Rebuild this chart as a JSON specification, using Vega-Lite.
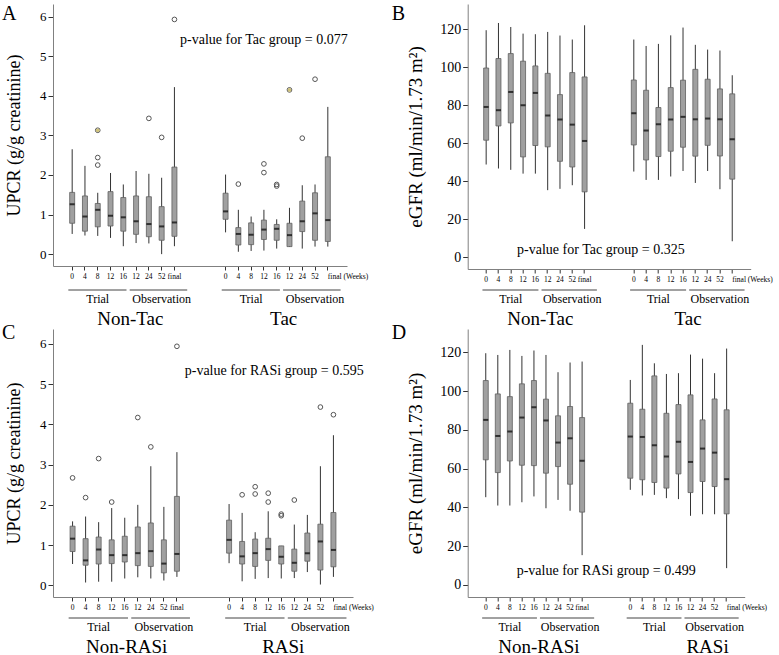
{
  "$schema": "https://vega.github.io/schema/vega-lite/v6.json",
  "background": "white",
  "padding": {"left": 2, "top": 4, "right": 0, "bottom": 0},
  "autosize": {"type": "pad"},
  "config": {
    "view": {"stroke": null},
    "font": "Liberation Serif",
    "axis": {"labelFont": "Liberation Serif", "titleFont": "Liberation Serif", "domainColor": "#808080", "tickColor": "#333333", "labelColor": "#000000", "titleColor": "#000000", "grid": false, "titleFontWeight": "normal"},
    "title": {"font": "Liberation Serif", "fontWeight": "normal", "fontSize": 20, "color": "#000000"}
  },
  "datasets": {
    "boxes": [
      {"p":"A","key":"1T0","lo":0.51,"q1":0.78,"med":1.26,"q3":1.56,"hi":2.65},
      {"p":"A","key":"1T4","lo":0.47,"q1":0.58,"med":0.95,"q3":1.47,"hi":2.23},
      {"p":"A","key":"1T8","lo":0.46,"q1":0.69,"med":1.12,"q3":1.28,"hi":1.55},
      {"p":"A","key":"1T12","lo":0.41,"q1":0.71,"med":0.97,"q3":1.58,"hi":2.05},
      {"p":"A","key":"1T16","lo":0.2,"q1":0.58,"med":0.93,"q3":1.43,"hi":1.76},
      {"p":"A","key":"1O12","lo":0.28,"q1":0.5,"med":0.83,"q3":1.47,"hi":2.1},
      {"p":"A","key":"1O24","lo":0.27,"q1":0.44,"med":0.76,"q3":1.45,"hi":2.03},
      {"p":"A","key":"1O52","lo":0.0,"q1":0.35,"med":0.7,"q3":1.2,"hi":1.93},
      {"p":"A","key":"1Ofinal","lo":0.2,"q1":0.45,"med":0.8,"q3":2.2,"hi":4.22},
      {"p":"A","key":"2T0","lo":0.55,"q1":0.88,"med":1.08,"q3":1.54,"hi":2.01},
      {"p":"A","key":"2T4","lo":0.06,"q1":0.23,"med":0.51,"q3":0.67,"hi":1.12},
      {"p":"A","key":"2T8","lo":0.08,"q1":0.24,"med":0.49,"q3":0.79,"hi":0.95},
      {"p":"A","key":"2T12","lo":0.09,"q1":0.37,"med":0.62,"q3":0.86,"hi":1.12},
      {"p":"A","key":"2T16","lo":0.14,"q1":0.35,"med":0.64,"q3":0.75,"hi":0.88},
      {"p":"A","key":"2O12","lo":0.18,"q1":0.19,"med":0.48,"q3":0.78,"hi":1.17},
      {"p":"A","key":"2O24","lo":0.14,"q1":0.57,"med":0.83,"q3":1.34,"hi":1.74},
      {"p":"A","key":"2O52","lo":0.19,"q1":0.35,"med":1.03,"q3":1.55,"hi":1.76},
      {"p":"A","key":"2Ofinal","lo":0.19,"q1":0.32,"med":0.86,"q3":2.46,"hi":3.72},
      {"p":"B","key":"1T0","lo":48.8,"q1":61.6,"med":79.1,"q3":99.6,"hi":119.5},
      {"p":"B","key":"1T4","lo":46.7,"q1":69.1,"med":77.4,"q3":104.6,"hi":123.3},
      {"p":"B","key":"1T8","lo":46,"q1":70.7,"med":87,"q3":107.2,"hi":121.2},
      {"p":"B","key":"1T12","lo":44,"q1":52.8,"med":80,"q3":103.2,"hi":117.7},
      {"p":"B","key":"1T16","lo":44,"q1":58.8,"med":86.5,"q3":100.7,"hi":117.4},
      {"p":"B","key":"1O12","lo":35.3,"q1":58.1,"med":74.6,"q3":96.8,"hi":118.6},
      {"p":"B","key":"1O24","lo":36,"q1":50.5,"med":72.5,"q3":85.6,"hi":116.7},
      {"p":"B","key":"1O52","lo":37.9,"q1":47.5,"med":69.8,"q3":97.2,"hi":114.6},
      {"p":"B","key":"1Ofinal","lo":14.9,"q1":34.4,"med":61.2,"q3":94.9,"hi":122.1},
      {"p":"B","key":"2T0","lo":45.1,"q1":59.1,"med":75.8,"q3":93.3,"hi":114.6},
      {"p":"B","key":"2T4","lo":40.7,"q1":51.2,"med":66.7,"q3":87.9,"hi":111.2},
      {"p":"B","key":"2T8","lo":40.7,"q1":53,"med":70,"q3":78.8,"hi":112.3},
      {"p":"B","key":"2T12","lo":42.5,"q1":55.8,"med":72.5,"q3":89.3,"hi":116.8},
      {"p":"B","key":"2T16","lo":45.4,"q1":57.9,"med":73.9,"q3":93.2,"hi":120.9},
      {"p":"B","key":"2O12","lo":39.1,"q1":53.2,"med":72.6,"q3":98.9,"hi":111.8},
      {"p":"B","key":"2O24","lo":45.4,"q1":58.9,"med":73,"q3":93.7,"hi":109.3},
      {"p":"B","key":"2O52","lo":35.8,"q1":53.3,"med":72.6,"q3":88.6,"hi":108.8},
      {"p":"B","key":"2Ofinal","lo":8.4,"q1":41.1,"med":62.1,"q3":86,"hi":95.8},
      {"p":"C","key":"1T0","lo":0.53,"q1":0.84,"med":1.16,"q3":1.47,"hi":1.59},
      {"p":"C","key":"1T4","lo":0.07,"q1":0.5,"med":0.62,"q3":1.16,"hi":1.71},
      {"p":"C","key":"1T8","lo":0.09,"q1":0.53,"med":0.89,"q3":1.2,"hi":1.57},
      {"p":"C","key":"1T12","lo":0.09,"q1":0.54,"med":0.75,"q3":1.13,"hi":1.92},
      {"p":"C","key":"1T16","lo":0.17,"q1":0.58,"med":0.75,"q3":1.22,"hi":1.68},
      {"p":"C","key":"1O12","lo":0.2,"q1":0.49,"med":0.8,"q3":1.45,"hi":2.0},
      {"p":"C","key":"1O24","lo":0.17,"q1":0.47,"med":0.85,"q3":1.55,"hi":2.96},
      {"p":"C","key":"1O52","lo":0.12,"q1":0.31,"med":0.54,"q3":1.13,"hi":1.95},
      {"p":"C","key":"1Ofinal","lo":0.21,"q1":0.35,"med":0.78,"q3":2.21,"hi":3.31},
      {"p":"C","key":"2T0","lo":0.55,"q1":0.8,"med":1.13,"q3":1.62,"hi":2.02},
      {"p":"C","key":"2T4","lo":0.1,"q1":0.53,"med":0.72,"q3":1.09,"hi":1.8},
      {"p":"C","key":"2T8","lo":0.16,"q1":0.47,"med":0.8,"q3":1.15,"hi":1.32},
      {"p":"C","key":"2T12","lo":0.18,"q1":0.62,"med":0.9,"q3":1.17,"hi":1.84},
      {"p":"C","key":"2T16","lo":0.17,"q1":0.53,"med":0.71,"q3":0.98,"hi":0.98},
      {"p":"C","key":"2O12","lo":0.18,"q1":0.35,"med":0.56,"q3":0.9,"hi":1.51},
      {"p":"C","key":"2O24","lo":0.33,"q1":0.6,"med":0.8,"q3":1.3,"hi":1.75},
      {"p":"C","key":"2O52","lo":0.02,"q1":0.38,"med":1.09,"q3":1.52,"hi":2.96},
      {"p":"C","key":"2Ofinal","lo":0.21,"q1":0.46,"med":0.88,"q3":1.81,"hi":3.73},
      {"p":"D","key":"1T0","lo":45.2,"q1":64.5,"med":85.1,"q3":105.4,"hi":119.5},
      {"p":"D","key":"1T4","lo":40.9,"q1":57.9,"med":76.8,"q3":98.5,"hi":118.6},
      {"p":"D","key":"1T8","lo":40.9,"q1":63.9,"med":79.1,"q3":97.1,"hi":121.2},
      {"p":"D","key":"1T12","lo":42.6,"q1":61.7,"med":86.3,"q3":103.7,"hi":118.1},
      {"p":"D","key":"1T16","lo":45.6,"q1":61.5,"med":91.6,"q3":105.4,"hi":120.9},
      {"p":"D","key":"1O12","lo":39.5,"q1":57.6,"med":84.8,"q3":95.8,"hi":118.6},
      {"p":"D","key":"1O24","lo":43.8,"q1":61,"med":73.4,"q3":87.2,"hi":109.7},
      {"p":"D","key":"1O52","lo":38.2,"q1":51.9,"med":75.6,"q3":92,"hi":114.7},
      {"p":"D","key":"1Ofinal","lo":15.3,"q1":37.5,"med":64,"q3":86.3,"hi":115.2},
      {"p":"D","key":"2T0","lo":49,"q1":55,"med":76.5,"q3":93.7,"hi":105.7},
      {"p":"D","key":"2T4","lo":46.1,"q1":54.2,"med":76.3,"q3":90.6,"hi":123.8},
      {"p":"D","key":"2T8","lo":46.4,"q1":52.8,"med":72,"q3":107.8,"hi":114.3},
      {"p":"D","key":"2T12","lo":44.7,"q1":49.9,"med":66.2,"q3":88.5,"hi":108.8},
      {"p":"D","key":"2T16","lo":44.2,"q1":57.2,"med":73.8,"q3":93,"hi":109.2},
      {"p":"D","key":"2O12","lo":35.6,"q1":47.6,"med":63.4,"q3":98,"hi":118.8},
      {"p":"D","key":"2O24","lo":36.4,"q1":53.3,"med":70.3,"q3":85.1,"hi":116.7},
      {"p":"D","key":"2O52","lo":36.4,"q1":50.7,"med":68.2,"q3":95.9,"hi":109.2},
      {"p":"D","key":"2Ofinal","lo":8.6,"q1":36.6,"med":54.5,"q3":90.3,"hi":121.9}
    ],
    "outliers": [
      {"p":"A","key":"1T8","v":3.13,"hl":1},
      {"p":"A","key":"1T8","v":2.44,"hl":0},
      {"p":"A","key":"1T8","v":2.25,"hl":0},
      {"p":"A","key":"1O24","v":3.43,"hl":0},
      {"p":"A","key":"1O52","v":2.95,"hl":0},
      {"p":"A","key":"1Ofinal","v":5.93,"hl":0},
      {"p":"A","key":"2T4","v":1.77,"hl":0},
      {"p":"A","key":"2T12","v":2.28,"hl":0},
      {"p":"A","key":"2T12","v":2.06,"hl":0},
      {"p":"A","key":"2T16","v":1.72,"hl":0},
      {"p":"A","key":"2T16","v":1.76,"hl":0},
      {"p":"A","key":"2O12","v":4.15,"hl":1},
      {"p":"A","key":"2O24","v":2.93,"hl":0},
      {"p":"A","key":"2O52","v":4.42,"hl":0},
      {"p":"C","key":"1T0","v":2.67,"hl":0},
      {"p":"C","key":"1T4","v":2.18,"hl":0},
      {"p":"C","key":"1T8","v":3.15,"hl":0},
      {"p":"C","key":"1T12","v":2.07,"hl":0},
      {"p":"C","key":"1O12","v":4.17,"hl":0},
      {"p":"C","key":"1O24","v":3.44,"hl":0},
      {"p":"C","key":"1Ofinal","v":5.94,"hl":0},
      {"p":"C","key":"2T4","v":2.25,"hl":0},
      {"p":"C","key":"2T8","v":2.45,"hl":0},
      {"p":"C","key":"2T8","v":2.27,"hl":0},
      {"p":"C","key":"2T12","v":2.29,"hl":0},
      {"p":"C","key":"2T12","v":2.07,"hl":0},
      {"p":"C","key":"2T16","v":1.73,"hl":0},
      {"p":"C","key":"2T16","v":1.77,"hl":0},
      {"p":"C","key":"2O12","v":2.12,"hl":0},
      {"p":"C","key":"2O52","v":4.43,"hl":0},
      {"p":"C","key":"2Ofinal","v":4.24,"hl":0}
    ],
    "notes": [
      {"p":"A","key":"2T12","v":5.41,"text":"p-value for Tac group = 0.077"},
      {"p":"B","key":"s1","v":3.8,"text":"p-value for Tac group = 0.325"},
      {"p":"C","key":"2T12","v":5.33,"text":"p-value for RASi group = 0.595"},
      {"p":"D","key":"s2","v":6.9,"text":"p-value for RASi group = 0.499"}
    ],
    "lines": [
      {"p":"A","seg":"trial","from":"1T0","to":"1T16","row":"line"},
      {"p":"A","seg":"obs","from":"1O12","to":"1Ofinal","row":"line"},
      {"p":"A","seg":"trial","from":"2T0","to":"2T16","row":"line"},
      {"p":"A","seg":"obs","from":"2O12","to":"2Ofinal","row":"line"},
      {"p":"B","seg":"trial","from":"1T0","to":"1T16","row":"line"},
      {"p":"B","seg":"obs","from":"1O12","to":"1Ofinal","row":"line"},
      {"p":"B","seg":"trial","from":"2T0","to":"2T16","row":"line"},
      {"p":"B","seg":"obs","from":"2O12","to":"2Ofinal","row":"line"},
      {"p":"C","seg":"trial","from":"1T0","to":"1T16","row":"line"},
      {"p":"C","seg":"obs","from":"1O12","to":"1Ofinal","row":"line"},
      {"p":"C","seg":"trial","from":"2T0","to":"2T16","row":"line"},
      {"p":"C","seg":"obs","from":"2O12","to":"2Ofinal","row":"line"},
      {"p":"D","seg":"trial","from":"1T0","to":"1T16","row":"line"},
      {"p":"D","seg":"obs","from":"1O12","to":"1Ofinal","row":"line"},
      {"p":"D","seg":"trial","from":"2T0","to":"2T16","row":"line"},
      {"p":"D","seg":"obs","from":"2O12","to":"2Ofinal","row":"line"}
    ],
    "labels": [
      {"p":"A","key":"1T8","row":"sub","text":"Trial"},
      {"p":"A","key":"1O52","row":"sub","text":"Observation"},
      {"p":"A","key":"2T8","row":"sub","text":"Trial"},
      {"p":"A","key":"2O52","row":"sub","text":"Observation"},
      {"p":"A","key":"1T16","row":"group","text":"Non-Tac"},
      {"p":"A","key":"2T16","row":"group","text":"Tac"},
      {"p":"B","key":"1T8","row":"sub","text":"Trial"},
      {"p":"B","key":"1O52","row":"sub","text":"Observation"},
      {"p":"B","key":"2T8","row":"sub","text":"Trial"},
      {"p":"B","key":"2O52","row":"sub","text":"Observation"},
      {"p":"B","key":"1T16","row":"group","text":"Non-Tac"},
      {"p":"B","key":"2T16","row":"group","text":"Tac"},
      {"p":"C","key":"1T8","row":"sub","text":"Trial"},
      {"p":"C","key":"1O52","row":"sub","text":"Observation"},
      {"p":"C","key":"2T8","row":"sub","text":"Trial"},
      {"p":"C","key":"2O52","row":"sub","text":"Observation"},
      {"p":"C","key":"1T16","row":"group","text":"Non-RASi"},
      {"p":"C","key":"2T16","row":"group","text":"RASi"},
      {"p":"D","key":"1T8","row":"sub","text":"Trial"},
      {"p":"D","key":"1O52","row":"sub","text":"Observation"},
      {"p":"D","key":"2T8","row":"sub","text":"Trial"},
      {"p":"D","key":"2O52","row":"sub","text":"Observation"},
      {"p":"D","key":"1T16","row":"group","text":"Non-RASi"},
      {"p":"D","key":"2O24","row":"group","text":"RASi"}
    ]
  },
  "bounds": "flush",
  "align": "each",
  "columns": 2,
  "spacing": {"row": 21, "column": 114.7},
  "concat": [
    {
      "width": 294, "height": 262,
      "title": {"text": "A", "anchor": "start", "frame": "group", "dx": -51, "dy": 20, "offset": 0, "baseline": "top"},
      "layer": [
        {"data": {"name": "boxes"}, "transform": [{"filter": "datum.p === 'A'"}],
         "mark": {"type": "rule", "color": "#333333", "strokeWidth": 1},
         "encoding": {
           "x": {"field": "key", "type": "nominal", "scale": {"type": "band", "domain": ["1T0","1T4","1T8","1T12","1T16","1O12","1O24","1O52","1Ofinal","s1","s2","s3","2T0","2T4","2T8","2T12","2T16","2O12","2O24","2O52","2Ofinal"], "paddingInner": 0, "paddingOuter": 1},
                 "axis": {"values": ["1T0","1T4","1T8","1T12","1T16","1O12","1O24","1O52","1Ofinal","2T0","2T4","2T8","2T12","2T16","2O12","2O24","2O52","2Ofinal"], "labelExpr": "datum.value === '2Ofinal' ? 'final (Weeks)' : slice(datum.value, 2)", "labelAlign": {"condition": {"test": "datum.value === '2Ofinal'", "value": "left"}, "value": "center"}, "title": null, "labelAngle": 0, "tickSize": 4, "labelPadding": 2, "labelFontSize": 7.5, "labelOverlap": false}},
           "y": {"field": "lo", "type": "quantitative", "scale": {"domain": [-0.3, 6.32], "nice": false, "zero": false},
                 "axis": {"values": [0,1,2,3,4,5,6], "title": "UPCR (g/g creatinine)", "tickSize": 5, "labelPadding": 2, "labelFontSize": 13, "titleFontSize": 18, "titlePadding": 16}},
           "y2": {"field": "hi"}
         }},
        {"data": {"name": "boxes"}, "transform": [{"filter": "datum.p === 'A'"}],
         "mark": {"type": "bar", "size": 5, "fill": "#a0a0a0", "stroke": "#606060", "strokeWidth": 0.8},
         "encoding": {"x": {"field": "key", "type": "nominal"}, "y": {"field": "q1", "type": "quantitative"}, "y2": {"field": "q3"}}},
        {"data": {"name": "boxes"}, "transform": [{"filter": "datum.p === 'A'"}],
         "mark": {"type": "tick", "orient": "horizontal", "size": 5, "thickness": 2, "color": "#000000"},
         "encoding": {"x": {"field": "key", "type": "nominal"}, "y": {"field": "med", "type": "quantitative"}}},
        {"data": {"name": "outliers"}, "transform": [{"filter": "datum.p === 'A'"}],
         "mark": {"type": "point", "shape": "circle", "size": 22, "filled": false, "stroke": "#555555", "strokeWidth": 1, "opacity": 1},
         "encoding": {"x": {"field": "key", "type": "nominal"}, "y": {"field": "v", "type": "quantitative"}}},
        {"data": {"name": "outliers"}, "transform": [{"filter": "datum.p === 'A' && datum.hl === 1"}],
         "mark": {"type": "point", "shape": "circle", "size": 14, "filled": true, "color": "#cfc27a", "opacity": 1},
         "encoding": {"x": {"field": "key", "type": "nominal"}, "y": {"field": "v", "type": "quantitative"}}},
        {"data": {"name": "notes"}, "transform": [{"filter": "datum.p === 'A'"}],
         "mark": {"type": "text", "font": "Liberation Serif", "fontSize": 14, "baseline": "middle", "dx": 0},
         "encoding": {"x": {"field": "key", "type": "nominal"}, "y": {"field": "v", "type": "quantitative"}, "text": {"field": "text"}}}
      ]
    },
    {
      "width": 283, "height": 265,
      "title": {"text": "B", "anchor": "start", "frame": "group", "dx": -76, "dy": 20, "offset": 0, "baseline": "top"},
      "layer": [
        {"data": {"name": "boxes"}, "transform": [{"filter": "datum.p === 'B'"}],
         "mark": {"type": "rule", "color": "#333333", "strokeWidth": 1},
         "encoding": {
           "x": {"field": "key", "type": "nominal", "scale": {"type": "band", "domain": ["1T0","1T4","1T8","1T12","1T16","1O12","1O24","1O52","1Ofinal","s1","s2","s3","2T0","2T4","2T8","2T12","2T16","2O12","2O24","2O52","2Ofinal"], "paddingInner": 0, "paddingOuter": 1},
                 "axis": {"values": ["1T0","1T4","1T8","1T12","1T16","1O12","1O24","1O52","1Ofinal","2T0","2T4","2T8","2T12","2T16","2O12","2O24","2O52","2Ofinal"], "labelExpr": "datum.value === '2Ofinal' ? 'final (Weeks)' : slice(datum.value, 2)", "labelAlign": {"condition": {"test": "datum.value === '2Ofinal'", "value": "left"}, "value": "center"}, "title": null, "labelAngle": 0, "tickSize": 4, "labelPadding": 2, "labelFontSize": 7.5, "labelOverlap": false}},
           "y": {"field": "lo", "type": "quantitative", "scale": {"domain": [-6.2, 133.3], "nice": false, "zero": false},
                 "axis": {"values": [0,20,40,60,80,100,120], "title": "eGFR (ml/min/1.73 m²)", "tickSize": 5, "labelPadding": 2, "labelFontSize": 14, "titleFontSize": 19, "titlePadding": 14}},
           "y2": {"field": "hi"}
         }},
        {"data": {"name": "boxes"}, "transform": [{"filter": "datum.p === 'B'"}],
         "mark": {"type": "bar", "size": 5, "fill": "#a0a0a0", "stroke": "#606060", "strokeWidth": 0.8},
         "encoding": {"x": {"field": "key", "type": "nominal"}, "y": {"field": "q1", "type": "quantitative"}, "y2": {"field": "q3"}}},
        {"data": {"name": "boxes"}, "transform": [{"filter": "datum.p === 'B'"}],
         "mark": {"type": "tick", "orient": "horizontal", "size": 5, "thickness": 2, "color": "#000000"},
         "encoding": {"x": {"field": "key", "type": "nominal"}, "y": {"field": "med", "type": "quantitative"}}},
        {"data": {"name": "notes"}, "transform": [{"filter": "datum.p === 'B'"}],
         "mark": {"type": "text", "font": "Liberation Serif", "fontSize": 14, "baseline": "middle", "dx": 4},
         "encoding": {"x": {"field": "key", "type": "nominal"}, "y": {"field": "v", "type": "quantitative"}, "text": {"field": "text"}}}
      ]
    },
    {
      "width": 294, "height": 18,
      "layer": [
        {"data": {"name": "lines"}, "transform": [{"filter": "datum.p === 'A' && datum.seg === 'trial'"}],
         "mark": {"type": "rule", "color": "#444444", "strokeWidth": 1},
         "encoding": {
           "x": {"field": "from", "type": "nominal", "bandPosition": 0.2, "scale": {"type": "band", "domain": ["1T0","1T4","1T8","1T12","1T16","1O12","1O24","1O52","1Ofinal","s1","s2","s3","2T0","2T4","2T8","2T12","2T16","2O12","2O24","2O52","2Ofinal"], "paddingInner": 0, "paddingOuter": 1}, "axis": null},
           "x2": {"field": "to", "bandPosition": 0.75},
           "y": {"field": "row", "type": "nominal", "scale": {"type": "point", "domain": ["line","sub","group"], "padding": 0}, "axis": null}
         }},
        {"data": {"name": "lines"}, "transform": [{"filter": "datum.p === 'A' && datum.seg === 'obs'"}],
         "mark": {"type": "rule", "color": "#444444", "strokeWidth": 1},
         "encoding": {"x": {"field": "from", "type": "nominal", "bandPosition": 0}, "x2": {"field": "to", "bandPosition": 1.5}, "y": {"field": "row", "type": "nominal"}}},
        {"data": {"name": "labels"}, "transform": [{"filter": "datum.p === 'A' && datum.row === 'sub'"}],
         "mark": {"type": "text", "font": "Liberation Serif", "fontSize": 12, "baseline": "middle"},
         "encoding": {"x": {"field": "key", "type": "nominal"}, "y": {"field": "row", "type": "nominal"}, "text": {"field": "text"}}},
        {"data": {"name": "labels"}, "transform": [{"filter": "datum.p === 'A' && datum.row === 'group'"}],
         "mark": {"type": "text", "font": "Liberation Serif", "fontSize": 19, "baseline": "middle", "dx": 7, "dy": 11},
         "encoding": {"x": {"field": "key", "type": "nominal"}, "y": {"field": "row", "type": "nominal"}, "text": {"field": "text"}}}
      ]
    },
    {
      "width": 283, "height": 18,
      "layer": [
        {"data": {"name": "lines"}, "transform": [{"filter": "datum.p === 'B' && datum.seg === 'trial'"}],
         "mark": {"type": "rule", "color": "#444444", "strokeWidth": 1},
         "encoding": {
           "x": {"field": "from", "type": "nominal", "bandPosition": 0.2, "scale": {"type": "band", "domain": ["1T0","1T4","1T8","1T12","1T16","1O12","1O24","1O52","1Ofinal","s1","s2","s3","2T0","2T4","2T8","2T12","2T16","2O12","2O24","2O52","2Ofinal"], "paddingInner": 0, "paddingOuter": 1}, "axis": null},
           "x2": {"field": "to", "bandPosition": 0.75},
           "y": {"field": "row", "type": "nominal", "scale": {"type": "point", "domain": ["line","sub","group"], "padding": 0}, "axis": null}
         }},
        {"data": {"name": "lines"}, "transform": [{"filter": "datum.p === 'B' && datum.seg === 'obs'"}],
         "mark": {"type": "rule", "color": "#444444", "strokeWidth": 1},
         "encoding": {"x": {"field": "from", "type": "nominal", "bandPosition": 0}, "x2": {"field": "to", "bandPosition": 1.5}, "y": {"field": "row", "type": "nominal"}}},
        {"data": {"name": "labels"}, "transform": [{"filter": "datum.p === 'B' && datum.row === 'sub'"}],
         "mark": {"type": "text", "font": "Liberation Serif", "fontSize": 12, "baseline": "middle"},
         "encoding": {"x": {"field": "key", "type": "nominal"}, "y": {"field": "row", "type": "nominal"}, "text": {"field": "text"}}},
        {"data": {"name": "labels"}, "transform": [{"filter": "datum.p === 'B' && datum.row === 'group'"}],
         "mark": {"type": "text", "font": "Liberation Serif", "fontSize": 19, "baseline": "middle", "dx": 5, "dy": 11},
         "encoding": {"x": {"field": "key", "type": "nominal"}, "y": {"field": "row", "type": "nominal"}, "text": {"field": "text"}}}
      ]
    },
    {
      "width": 300, "height": 268,
      "title": {"text": "C", "anchor": "start", "frame": "group", "dx": -51, "dy": 14, "offset": 0, "baseline": "top"},
      "layer": [
        {"data": {"name": "boxes"}, "transform": [{"filter": "datum.p === 'C'"}],
         "mark": {"type": "rule", "color": "#333333", "strokeWidth": 1},
         "encoding": {
           "x": {"field": "key", "type": "nominal", "scale": {"type": "band", "domain": ["1T0","1T4","1T8","1T12","1T16","1O12","1O24","1O52","1Ofinal","s1","s2","s3","2T0","2T4","2T8","2T12","2T16","2O12","2O24","2O52","2Ofinal"], "paddingInner": 0, "paddingOuter": 1},
                 "axis": {"values": ["1T0","1T4","1T8","1T12","1T16","1O12","1O24","1O52","1Ofinal","2T0","2T4","2T8","2T12","2T16","2O12","2O24","2O52","2Ofinal"], "labelExpr": "datum.value === '2Ofinal' ? 'final (Weeks)' : slice(datum.value, 2)", "labelAlign": {"condition": {"test": "datum.value === '2Ofinal'", "value": "left"}, "value": "center"}, "title": null, "labelAngle": 0, "tickSize": 4, "labelPadding": 2, "labelFontSize": 7.5, "labelOverlap": false}},
           "y": {"field": "lo", "type": "quantitative", "scale": {"domain": [-0.29, 6.37], "nice": false, "zero": false},
                 "axis": {"values": [0,1,2,3,4,5,6], "title": "UPCR (g/g creatinine)", "tickSize": 5, "labelPadding": 2, "labelFontSize": 13, "titleFontSize": 18, "titlePadding": 16}},
           "y2": {"field": "hi"}
         }},
        {"data": {"name": "boxes"}, "transform": [{"filter": "datum.p === 'C'"}],
         "mark": {"type": "bar", "size": 5, "fill": "#a0a0a0", "stroke": "#606060", "strokeWidth": 0.8},
         "encoding": {"x": {"field": "key", "type": "nominal"}, "y": {"field": "q1", "type": "quantitative"}, "y2": {"field": "q3"}}},
        {"data": {"name": "boxes"}, "transform": [{"filter": "datum.p === 'C'"}],
         "mark": {"type": "tick", "orient": "horizontal", "size": 5, "thickness": 2, "color": "#000000"},
         "encoding": {"x": {"field": "key", "type": "nominal"}, "y": {"field": "med", "type": "quantitative"}}},
        {"data": {"name": "outliers"}, "transform": [{"filter": "datum.p === 'C'"}],
         "mark": {"type": "point", "shape": "circle", "size": 22, "filled": false, "stroke": "#555555", "strokeWidth": 1, "opacity": 1},
         "encoding": {"x": {"field": "key", "type": "nominal"}, "y": {"field": "v", "type": "quantitative"}}},
        {"data": {"name": "notes"}, "transform": [{"filter": "datum.p === 'C'"}],
         "mark": {"type": "text", "font": "Liberation Serif", "fontSize": 14, "baseline": "middle", "dx": 6},
         "encoding": {"x": {"field": "key", "type": "nominal"}, "y": {"field": "v", "type": "quantitative"}, "text": {"field": "text"}}}
      ]
    },
    {
      "width": 277, "height": 268,
      "title": {"text": "D", "anchor": "start", "frame": "group", "dx": -76, "dy": 14, "offset": 0, "baseline": "top"},
      "layer": [
        {"data": {"name": "boxes"}, "transform": [{"filter": "datum.p === 'D'"}],
         "mark": {"type": "rule", "color": "#333333", "strokeWidth": 1},
         "encoding": {
           "x": {"field": "key", "type": "nominal", "scale": {"type": "band", "domain": ["1T0","1T4","1T8","1T12","1T16","1O12","1O24","1O52","1Ofinal","s1","s2","s3","2T0","2T4","2T8","2T12","2T16","2O12","2O24","2O52","2Ofinal"], "paddingInner": 0, "paddingOuter": 1},
                 "axis": {"values": ["1T0","1T4","1T8","1T12","1T16","1O12","1O24","1O52","1Ofinal","2T0","2T4","2T8","2T12","2T16","2O12","2O24","2O52","2Ofinal"], "labelExpr": "datum.value === '2Ofinal' ? 'final (Weeks)' : slice(datum.value, 2)", "labelAlign": {"condition": {"test": "datum.value === '2Ofinal'", "value": "left"}, "value": "center"}, "title": null, "labelAngle": 0, "tickSize": 4, "labelPadding": 2, "labelFontSize": 7.5, "labelOverlap": false}},
           "y": {"field": "lo", "type": "quantitative", "scale": {"domain": [-6.3, 132], "nice": false, "zero": false},
                 "axis": {"values": [0,20,40,60,80,100,120], "title": "eGFR (ml/min/1.73 m²)", "tickSize": 5, "labelPadding": 2, "labelFontSize": 14, "titleFontSize": 19, "titlePadding": 14}},
           "y2": {"field": "hi"}
         }},
        {"data": {"name": "boxes"}, "transform": [{"filter": "datum.p === 'D'"}],
         "mark": {"type": "bar", "size": 5, "fill": "#a0a0a0", "stroke": "#606060", "strokeWidth": 0.8},
         "encoding": {"x": {"field": "key", "type": "nominal"}, "y": {"field": "q1", "type": "quantitative"}, "y2": {"field": "q3"}}},
        {"data": {"name": "boxes"}, "transform": [{"filter": "datum.p === 'D'"}],
         "mark": {"type": "tick", "orient": "horizontal", "size": 5, "thickness": 2, "color": "#000000"},
         "encoding": {"x": {"field": "key", "type": "nominal"}, "y": {"field": "med", "type": "quantitative"}}},
        {"data": {"name": "notes"}, "transform": [{"filter": "datum.p === 'D'"}],
         "mark": {"type": "text", "font": "Liberation Serif", "fontSize": 14, "baseline": "middle", "dx": 0},
         "encoding": {"x": {"field": "key", "type": "nominal"}, "y": {"field": "v", "type": "quantitative"}, "text": {"field": "text"}}}
      ]
    },
    {
      "width": 300, "height": 18,
      "layer": [
        {"data": {"name": "lines"}, "transform": [{"filter": "datum.p === 'C' && datum.seg === 'trial'"}],
         "mark": {"type": "rule", "color": "#444444", "strokeWidth": 1},
         "encoding": {
           "x": {"field": "from", "type": "nominal", "bandPosition": 0.2, "scale": {"type": "band", "domain": ["1T0","1T4","1T8","1T12","1T16","1O12","1O24","1O52","1Ofinal","s1","s2","s3","2T0","2T4","2T8","2T12","2T16","2O12","2O24","2O52","2Ofinal"], "paddingInner": 0, "paddingOuter": 1}, "axis": null},
           "x2": {"field": "to", "bandPosition": 0.75},
           "y": {"field": "row", "type": "nominal", "scale": {"type": "point", "domain": ["line","sub","group"], "padding": 0}, "axis": null}
         }},
        {"data": {"name": "lines"}, "transform": [{"filter": "datum.p === 'C' && datum.seg === 'obs'"}],
         "mark": {"type": "rule", "color": "#444444", "strokeWidth": 1},
         "encoding": {"x": {"field": "from", "type": "nominal", "bandPosition": 0}, "x2": {"field": "to", "bandPosition": 1.5}, "y": {"field": "row", "type": "nominal"}}},
        {"data": {"name": "labels"}, "transform": [{"filter": "datum.p === 'C' && datum.row === 'sub'"}],
         "mark": {"type": "text", "font": "Liberation Serif", "fontSize": 12, "baseline": "middle"},
         "encoding": {"x": {"field": "key", "type": "nominal"}, "y": {"field": "row", "type": "nominal"}, "text": {"field": "text"}}},
        {"data": {"name": "labels"}, "transform": [{"filter": "datum.p === 'C' && datum.row === 'group'"}],
         "mark": {"type": "text", "font": "Liberation Serif", "fontSize": 19, "baseline": "middle", "dx": 2, "dy": 11},
         "encoding": {"x": {"field": "key", "type": "nominal"}, "y": {"field": "row", "type": "nominal"}, "text": {"field": "text"}}}
      ]
    },
    {
      "width": 277, "height": 18,
      "layer": [
        {"data": {"name": "lines"}, "transform": [{"filter": "datum.p === 'D' && datum.seg === 'trial'"}],
         "mark": {"type": "rule", "color": "#444444", "strokeWidth": 1},
         "encoding": {
           "x": {"field": "from", "type": "nominal", "bandPosition": 0.2, "scale": {"type": "band", "domain": ["1T0","1T4","1T8","1T12","1T16","1O12","1O24","1O52","1Ofinal","s1","s2","s3","2T0","2T4","2T8","2T12","2T16","2O12","2O24","2O52","2Ofinal"], "paddingInner": 0, "paddingOuter": 1}, "axis": null},
           "x2": {"field": "to", "bandPosition": 0.75},
           "y": {"field": "row", "type": "nominal", "scale": {"type": "point", "domain": ["line","sub","group"], "padding": 0}, "axis": null}
         }},
        {"data": {"name": "lines"}, "transform": [{"filter": "datum.p === 'D' && datum.seg === 'obs'"}],
         "mark": {"type": "rule", "color": "#444444", "strokeWidth": 1},
         "encoding": {"x": {"field": "from", "type": "nominal", "bandPosition": 0}, "x2": {"field": "to", "bandPosition": 1.5}, "y": {"field": "row", "type": "nominal"}}},
        {"data": {"name": "labels"}, "transform": [{"filter": "datum.p === 'D' && datum.row === 'sub'"}],
         "mark": {"type": "text", "font": "Liberation Serif", "fontSize": 12, "baseline": "middle"},
         "encoding": {"x": {"field": "key", "type": "nominal"}, "y": {"field": "row", "type": "nominal"}, "text": {"field": "text"}}},
        {"data": {"name": "labels"}, "transform": [{"filter": "datum.p === 'D' && datum.row === 'group'"}],
         "mark": {"type": "text", "font": "Liberation Serif", "fontSize": 19, "baseline": "middle", "dx": 5, "dy": 11},
         "encoding": {"x": {"field": "key", "type": "nominal"}, "y": {"field": "row", "type": "nominal"}, "text": {"field": "text"}}}
      ]
    }
  ]
}
